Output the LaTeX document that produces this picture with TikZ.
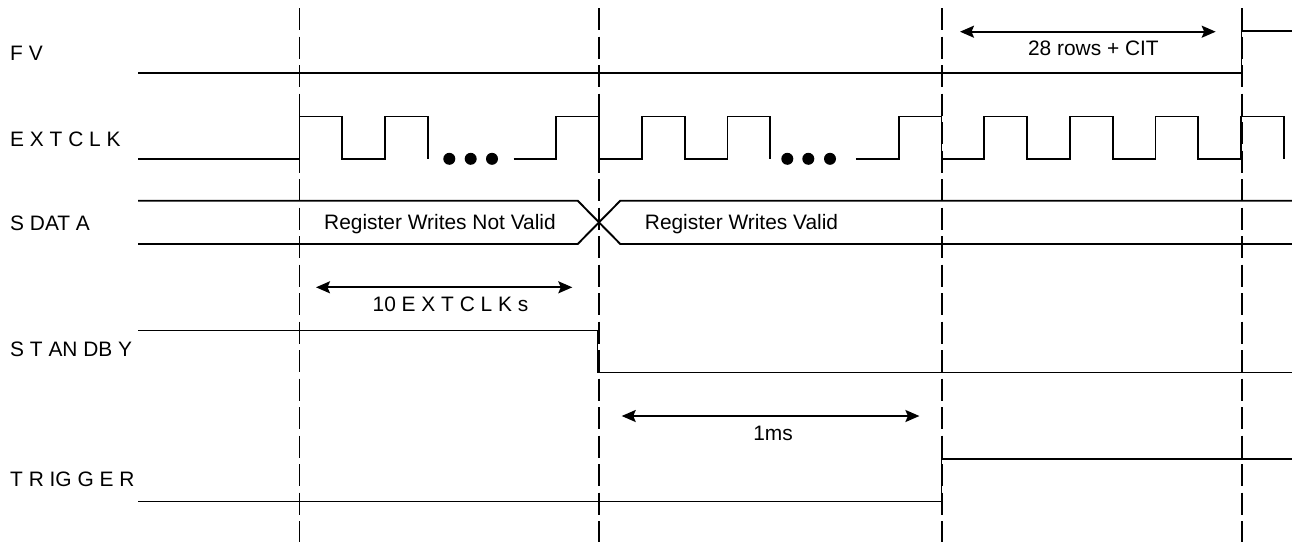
\documentclass[tikz,border=0pt]{standalone}
\usepackage{fontspec}
\setmainfont{Liberation Sans}
\usetikzlibrary{arrows.meta}
\newcommand\labfont{\fontsize{20.9}{24}\selectfont}
\begin{document}
\begin{tikzpicture}[x=1pt,y=-1pt,
  sig/.style={line width=1.9pt, line join=miter},
  gridline/.style={line width=1.9pt, dash pattern=on 22pt off 6.5pt},
  dim/.style={line width=1.9pt, {Stealth[length=14pt,width=12pt,inset=2.5pt]}-{Stealth[length=14pt,width=12pt,inset=2.5pt]}},
  lbl/.style={font=\labfont, inner sep=0pt, anchor=base west},
  txt/.style={font=\labfont, inner sep=0pt, anchor=base}]
\useasboundingbox (0,0) rectangle (1292,542);
\fill[white] (0,0) rectangle (1292,542);

% signal names
\node[lbl] (fv)  at (10,60)    {F V};
\node[lbl] (clk) at (10,146.7) {E X T C L K};
\node[lbl] (sd)  at (10,230)   {S DAT A};
\node[lbl] (sb)  at (10,356.7) {S T AN DB Y};
\node[lbl] (tr)  at (10,486.7) {T R IG G E R};

% FV
\draw[sig] (138,73) -- (1241.5,73) -- (1241.5,31) -- (1292,31);

% EXTCLK
\draw[sig] (138,159) -- (299.5,159) -- (299.5,116.5) -- (342.3,116.5) -- (342.3,159) -- (385.1,159) -- (385.1,116.5) -- (427.9,116.5) -- (427.9,159);
\draw[sig] (513.5,159) -- (556.3,159) -- (556.3,116.5) -- (599.1,116.5) -- (599.1,159) -- (641.9,159) -- (641.9,116.5) -- (684.7,116.5) -- (684.7,159) -- (727.5,159) -- (727.5,116.5) -- (770.3,116.5) -- (770.3,159);
\draw[sig] (855.9,159) -- (898.7,159) -- (898.7,116.5) -- (941.5,116.5) -- (941.5,159) -- (984.3,159) -- (984.3,116.5) -- (1027.1,116.5) -- (1027.1,159) -- (1069.9,159) -- (1069.9,116.5) -- (1112.7,116.5) -- (1112.7,159) -- (1155.5,159) -- (1155.5,116.5) -- (1198.3,116.5) -- (1198.3,159) -- (1241.1,159) -- (1241.1,116.5) -- (1283.9,116.5) -- (1283.9,159);
\foreach \x in {449.3,470.7,492,787.3,808.3,830}
  \fill (\x,158.8) circle (6pt);

% SDATA
\draw[sig] (138,200.7) -- (577.7,200.7) -- (620.3,244) -- (1292,244);
\draw[sig] (138,244) -- (577.7,244) -- (620.3,200.7) -- (1292,200.7);
\node[txt] (nv) at (440,229.3) {Register Writes Not Valid};
\node[txt] (vv) at (741.5,229.3) {Register Writes Valid};

% STANDBY
\draw[sig] (138,330.5) -- (597.5,330.5) -- (597.5,372.5) -- (1292,372.5);

% TRIGGER
\draw[sig] (138,501.5) -- (941.5,501.5) -- (941.5,459) -- (1292,459);

% dashed time markers
\foreach \x in {299.5,599.2,941.6,1241.6}
  \draw[gridline] (\x,8) -- (\x,542);

% dimension arrows
\coordinate (a1) at (960,31.7);  \coordinate (a2) at (1215.7,31.7);
\draw[dim] (a1) -- (a2);
\node[txt] (cit) at (1093.4,55) {28 rows + CIT};

\coordinate (b1) at (316,287.3); \coordinate (b2) at (572.3,287.3);
\draw[dim] (b1) -- (b2);
\node[txt] (ten) at (450.5,311.7) {10 E X T C L K s};

\coordinate (c1) at (621.7,416); \coordinate (c2) at (919.4,416);
\draw[dim] (c1) -- (c2);
\node[txt] (ms) at (773,440.7) {1ms};
\end{tikzpicture}
\end{document}
